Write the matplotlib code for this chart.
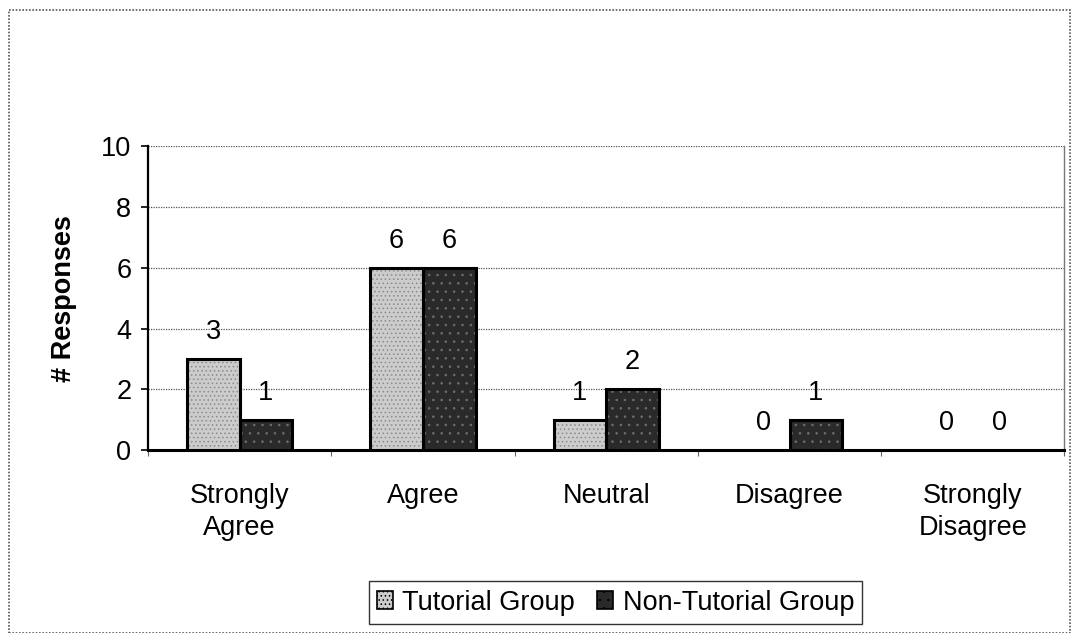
import numpy as np
import matplotlib.pyplot as plt
from matplotlib.patches import Rectangle

categories = ["Strongly\nAgree", "Agree", "Neutral", "Disagree", "Strongly\nDisagree"]
tutorial = [3, 6, 1, 0, 0]
non_tutorial = [1, 6, 2, 1, 0]
series_names = ["Tutorial Group", "Non-Tutorial Group"]

plt.rcParams["font.family"] = ["Liberation Sans", "DejaVu Sans"]
plt.rcParams["hatch.linewidth"] = 0.6
FS = 19.5

fig = plt.figure(figsize=(10.72, 6.33), dpi=100)
ax = fig.add_axes([0.138, 0.289, 0.855, 0.480])

x = np.arange(len(categories))
w = 0.287

b1 = ax.bar(x - w / 2, tutorial, w, color="#cccccc", edgecolor="#8a8a8a",
            hatch="....", linewidth=0, zorder=3, label=series_names[0])
b2 = ax.bar(x + w / 2, non_tutorial, w, color="#2a2a2a", edgecolor="#6e6e6e",
            hatch="..", linewidth=0, zorder=3, label=series_names[1])
# black outlines drawn on top
for bars in (b1, b2):
    for r in bars:
        if r.get_height() > 0:
            ax.add_patch(Rectangle(r.get_xy(), r.get_width(), r.get_height(),
                                   fill=False, edgecolor="black", linewidth=2.2, zorder=4))

for bars in (b1, b2):
    for r in bars:
        ax.annotate(f"{int(r.get_height())}", (r.get_x() + r.get_width() / 2, r.get_height()),
                    xytext=(0, 10), textcoords="offset points", ha="center", va="bottom",
                    fontsize=FS, zorder=5)

ax.set_xlim(-0.5, len(categories) - 0.5)
ax.set_ylim(0, 10)
ax.set_yticks(range(0, 11, 2))
ax.yaxis.grid(True, color="#555555", linestyle=(0, (1, 1)), linewidth=0.9, zorder=0)

ax.set_xticks(x)
ax.set_xticklabels(categories, fontsize=FS, linespacing=1.3)
ax.set_xticks(np.arange(-0.5, len(categories)), minor=True)
ax.tick_params(axis="x", which="major", length=0, pad=24)
ax.tick_params(axis="x", which="minor", length=4, width=0.8, direction="out", color="#666666")
ax.tick_params(axis="y", labelsize=FS, length=5, width=1.2, direction="out", pad=7)

ax.spines["left"].set_linewidth(1.6)
ax.spines["bottom"].set_linewidth(2.2)
ax.spines["top"].set_visible(False)
ax.spines["right"].set_color("#777777")
ax.spines["right"].set_linewidth(1.0)

ax.set_ylabel("# Responses", fontsize=FS, fontweight="bold", labelpad=17)

leg = fig.legend(loc="center", bbox_to_anchor=(0.574, 0.048), ncol=2, fontsize=FS,
                 frameon=True, fancybox=False, edgecolor="black", handlelength=0.6,
                 handleheight=0.6, handletextpad=0.35, columnspacing=0.8,
                 borderpad=0.3, borderaxespad=0)
leg.get_frame().set_linewidth(1.0)
for h in leg.legend_handles:
    h.set_edgecolor("black")
    h.set_linewidth(1.2)

fig.add_artist(Rectangle((0.008, 0.0), 0.99, 0.984, transform=fig.transFigure,
                         fill=False, edgecolor="#555555", linewidth=1.2, linestyle=(0, (1, 1))))

fig.savefig("out.png", dpi=100)
